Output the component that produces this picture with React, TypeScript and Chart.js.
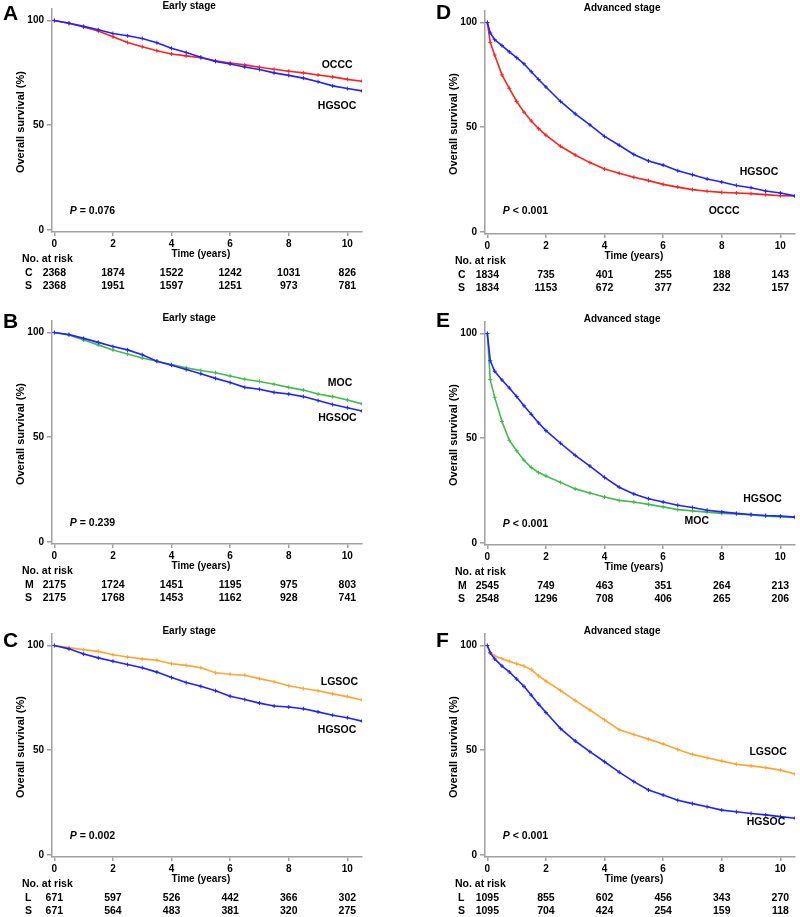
import React, { useEffect, useRef } from 'react';
import { Chart, registerables } from 'chart.js';

Chart.register(...registerables);

// ---------- DATA ----------
const timesEarly = [0, 0.5, 1, 1.5, 2, 2.5, 3, 3.5, 4, 4.5, 5, 5.5, 6, 6.5, 7, 7.5, 8, 8.5, 9, 9.5, 10, 10.5];
const timesAdvanced = [0, 0.1, 0.25, 0.5, 0.75, 1, 1.25, 1.5, 1.75, 2, 2.5, 3, 3.5, 4, 4.5, 5, 5.5, 6, 6.5, 7, 7.5, 8, 8.5, 9, 9.5, 10, 10.5];

// Panel A (early stage, OCCC vs HGSOC)
const earlyOCCC = [100, 98.7, 96.9, 95, 92.2, 89.5, 87.5, 85.6, 84, 83.1, 82.2, 80.8, 79.7, 78.8, 77.7, 76.7, 75.8, 75, 74, 73.1, 71.9, 71];
const earlyHGSOC_A = [100, 98.7, 97.2, 95.6, 93.8, 92.7, 91.4, 89.4, 86.7, 84.7, 82.5, 80.5, 79.2, 77.8, 76.6, 75, 73.8, 72.5, 70.8, 68.8, 67.5, 66.4];
// Panel B (early stage, MOC vs HGSOC)
const earlyMOC = [100, 98.8, 96.4, 94.1, 91.7, 89.7, 87.8, 86.3, 84.7, 83.1, 81.9, 80.8, 79.2, 77.7, 76.6, 75.3, 73.8, 72.5, 70.6, 69.4, 67.8, 65.9];
const earlyHGSOC_B = [100, 99, 97.2, 95.3, 93.3, 91.7, 89.4, 86.3, 84.4, 82.3, 80.3, 78.1, 76.1, 73.8, 72.9, 71.4, 70.6, 69.4, 67.5, 65.6, 64.1, 62.5];
// Panel C (early stage, LGSOC vs HGSOC)
const earlyLGSOC = [100, 99, 98, 97.2, 95.6, 94.5, 93.6, 93, 91.3, 90.5, 89.4, 87, 86.3, 85.8, 84.2, 82.7, 80.8, 79.5, 78.4, 76.9, 75.6, 74];
const earlyHGSOC_C = [100, 98.4, 95.9, 94.1, 92.5, 90.9, 89.4, 87.3, 84.7, 82.3, 80.5, 78.4, 75.8, 74.2, 72.5, 71.1, 70.6, 69.8, 68.3, 66.7, 65.5, 63.9];
// Panel D (advanced stage, OCCC vs HGSOC)
const advOCCC = [100, 90.5, 84.5, 75, 68.6, 62.3, 57.2, 53, 49.3, 46.2, 40.9, 36.7, 33.1, 30, 28, 26.1, 24.5, 22.7, 21.4, 20.2, 19.4, 18.9, 18.6, 18.3, 17.8, 17.3, 17.2];
const advHGSOC_D = [100, 95, 91.8, 89, 86, 83.2, 80.3, 76.5, 72.8, 69.2, 62.3, 56.4, 51.1, 45.6, 41.4, 37, 33.9, 31.9, 29.2, 27.3, 25.3, 23.8, 22.2, 21.1, 19.5, 18.6, 17.2];
// Panel E (advanced stage, MOC vs HGSOC)
const advMOC = [100, 78, 69.5, 58, 49, 44, 39.5, 36, 33.6, 32, 28.9, 25.8, 23.8, 21.9, 20.3, 19.5, 18.4, 17.2, 15.9, 15.3, 14.7, 14.1, 13.8, 13.3, 12.8, 12.5, 12.2];
const advHGSOC_E = [100, 87, 82, 77.8, 74, 69.9, 65.5, 61.4, 57.3, 53.6, 47.6, 41.8, 36.7, 31.3, 26.6, 23.4, 21.1, 19.5, 18, 16.9, 15.6, 14.8, 14.1, 13.6, 13.1, 12.8, 12.3];
// Panel F (advanced stage, LGSOC vs HGSOC)
const advLGSOC = [100, 96.5, 95, 93.7, 92.5, 91.3, 90.2, 88.5, 85.5, 83, 78.5, 73.7, 69.2, 64.5, 59.8, 57.5, 55.3, 53, 50.3, 48, 46.4, 44.8, 43.3, 42.5, 41.7, 40.5, 38.6];
const advHGSOC_F = [100, 96.5, 93.6, 90.2, 87.4, 84, 80.5, 76.3, 72, 68, 60.3, 54.4, 49.3, 44.5, 39.5, 35, 31, 28.6, 26.1, 24.5, 23, 21.4, 20.6, 19.8, 19.1, 18.3, 17.5];

// Numbers at risk (at years 0, 2, 4, 6, 8, 10)
const riskTimes = [0, 2, 4, 6, 8, 10];
const riskA_C = [2368, 1874, 1522, 1242, 1031, 826];
const riskA_S = [2368, 1951, 1597, 1251, 973, 781];
const riskB_M = [2175, 1724, 1451, 1195, 975, 803];
const riskB_S = [2175, 1768, 1453, 1162, 928, 741];
const riskC_L = [671, 597, 526, 442, 366, 302];
const riskC_S = [671, 564, 483, 381, 320, 275];
const riskD_C = [1834, 735, 401, 255, 188, 143];
const riskD_S = [1834, 1153, 672, 377, 232, 157];
const riskE_M = [2545, 749, 463, 351, 264, 213];
const riskE_S = [2548, 1296, 708, 406, 265, 206];
const riskF_L = [1095, 855, 602, 456, 343, 270];
const riskF_S = [1095, 704, 424, 254, 159, 118];

const xTickValues = [0, 2, 4, 6, 8, 10];
const yTickValues = [0, 50, 100];

// ---------- STYLE ----------
const FONT = '"Liberation Sans", Arial, Helvetica, sans-serif';
const RED = '#ff2222';
const BLUE = '#2222ff';
const GREEN = '#44bb4c';
const ORANGE = '#ffa533';
const AXIS = '#a0a0a0';
const CW = 367;
const CH = 292;

type Series = { values: number[]; color: string };
type Label = { text: string; x: number; y: number };
type Panel = {
  key: string;
  left: number;
  top: number;
  letterY: number;
  title: string;
  times: number[];
  series: Series[];
  labels: Label[];
  p: string;
  pY: number;
  risk: { label: string; values: number[] }[];
};

const panels: Panel[] = [
  {
    key: 'A', left: 0, top: 0, letterY: 20, title: 'Early stage', times: timesEarly,
    series: [{ values: earlyHGSOC_A, color: BLUE }, { values: earlyOCCC, color: RED }],
    labels: [{ text: 'OCCC', x: 9.65, y: 78.8 }, { text: 'HGSOC', x: 9.65, y: 59 }],
    p: '= 0.076', pY: 8.9,
    risk: [{ label: 'C', values: riskA_C }, { label: 'S', values: riskA_S }],
  },
  {
    key: 'B', left: 0, top: 312, letterY: 16, title: 'Early stage', times: timesEarly,
    series: [{ values: earlyHGSOC_B, color: BLUE }, { values: earlyMOC, color: GREEN }],
    labels: [{ text: 'MOC', x: 9.75, y: 75.6 }, { text: 'HGSOC', x: 9.66, y: 59.2 }],
    p: '= 0.239', pY: 8.9,
    risk: [{ label: 'M', values: riskB_M }, { label: 'S', values: riskB_S }],
  },
  {
    key: 'C', left: 0, top: 625, letterY: 22, title: 'Early stage', times: timesEarly,
    series: [{ values: earlyHGSOC_C, color: BLUE }, { values: earlyLGSOC, color: ORANGE }],
    labels: [{ text: 'LGSOC', x: 9.73, y: 82.3 }, { text: 'HGSOC', x: 9.65, y: 59.4 }],
    p: '= 0.002', pY: 8.9,
    risk: [{ label: 'L', values: riskC_L }, { label: 'S', values: riskC_S }],
  },
  {
    key: 'D', left: 433, top: 2, letterY: 17, title: 'Advanced stage', times: timesAdvanced,
    series: [{ values: advHGSOC_D, color: BLUE }, { values: advOCCC, color: RED }],
    labels: [{ text: 'HGSOC', x: 9.27, y: 28.4 }, { text: 'OCCC', x: 8.08, y: 9.7 }],
    p: '< 0.001', pY: 9.7,
    risk: [{ label: 'C', values: riskD_C }, { label: 'S', values: riskD_S }],
  },
  {
    key: 'E', left: 433, top: 313, letterY: 14, title: 'Advanced stage', times: timesAdvanced,
    series: [{ values: advHGSOC_E, color: BLUE }, { values: advMOC, color: GREEN }],
    labels: [{ text: 'HGSOC', x: 9.39, y: 21.1 }, { text: 'MOC', x: 7.15, y: 10.2 }],
    p: '< 0.001', pY: 9.1,
    risk: [{ label: 'M', values: riskE_M }, { label: 'S', values: riskE_S }],
  },
  {
    key: 'F', left: 433, top: 625, letterY: 22, title: 'Advanced stage', times: timesAdvanced,
    series: [{ values: advHGSOC_F, color: BLUE }, { values: advLGSOC, color: ORANGE }],
    labels: [{ text: 'LGSOC', x: 9.58, y: 49.2 }, { text: 'HGSOC', x: 9.51, y: 15.5 }],
    p: '< 0.001', pY: 8.9,
    risk: [{ label: 'L', values: riskF_L }, { label: 'S', values: riskF_S }],
  },
];

function makeTextPlugin(panel: Panel) {
  return {
    id: 'panelText' + panel.key,
    afterDraw(chart: any) {
      const ctx = chart.ctx as CanvasRenderingContext2D;
      const xs = chart.scales.x;
      const ys = chart.scales.y;
      ctx.save();
      ctx.fillStyle = '#000';
      // panel letter
      ctx.font = `bold 21px ${FONT}`;
      ctx.textAlign = 'left';
      ctx.textBaseline = 'alphabetic';
      ctx.fillText(panel.key, 3, panel.letterY);
      // title
      ctx.font = `bold 10px ${FONT}`;
      ctx.textAlign = 'center';
      ctx.textBaseline = 'middle';
      ctx.fillText(panel.title, xs.getPixelForValue(4.6), 6);
      // x axis title
      ctx.fillText('Time (years)', xs.getPixelForValue(5), 254);
      // y axis title
      ctx.save();
      ctx.font = `bold 11px ${FONT}`;
      ctx.translate(21, ys.getPixelForValue(51.5));
      ctx.rotate(-Math.PI / 2);
      ctx.fillText('Overall survival (%)', 0, 0);
      ctx.restore();
      // curve labels
      ctx.font = `bold 10.5px ${FONT}`;
      panel.labels.forEach((l) => {
        ctx.fillText(l.text, xs.getPixelForValue(l.x), ys.getPixelForValue(l.y));
      });
      // P value
      ctx.textAlign = 'left';
      const px = xs.getPixelForValue(0.53);
      const py = ys.getPixelForValue(panel.pY);
      ctx.font = `italic bold 10.5px ${FONT}`;
      ctx.fillText('P', px, py);
      const w = ctx.measureText('P').width;
      ctx.font = `bold 10.5px ${FONT}`;
      const sp = ctx.measureText(' ').width;
      ctx.fillText(panel.p, px + w + sp, py);
      // risk table
      ctx.fillText('No. at risk', 22, 259);
      const rowY = [273, 286];
      panel.risk.forEach((row, r) => {
        ctx.textAlign = 'left';
        ctx.fillText(row.label, 25, rowY[r]);
        ctx.textAlign = 'center';
        row.values.forEach((v, i) => {
          ctx.fillText(String(v), xs.getPixelForValue(riskTimes[i]), rowY[r]);
        });
      });
      ctx.restore();
    },
  };
}

function KMPanel({ panel }: { panel: Panel }) {
  const ref = useRef<HTMLCanvasElement | null>(null);
  useEffect(() => {
    if (!ref.current) return;
    const tickFont = { family: FONT, size: 10, weight: 'bold' as const };
    const chart = new Chart(ref.current, {
      type: 'line',
      data: {
        datasets: panel.series.map((s) => ({
          data: panel.times.map((t, i) => ({ x: t, y: s.values[i] })),
          borderColor: s.color,
          backgroundColor: s.color,
          borderWidth: 1.6,
          pointRadius: 2,
          pointStyle: 'cross',
          pointBorderWidth: 1,
          pointBorderColor: s.color,
          fill: false,
          tension: 0,
        })),
      },
      options: {
        responsive: false,
        animation: false,
        events: [],
        layout: { padding: { left: 0, right: CW - 363, top: 5, bottom: 40 } },
        plugins: { legend: { display: false }, tooltip: { enabled: false }, title: { display: false } },
        scales: {
          x: {
            type: 'linear',
            min: -0.08,
            max: 10.5,
            afterBuildTicks: (s: any) => { s.ticks = xTickValues.map((v) => ({ value: v })); },
            afterFit: (s: any) => { s.height = 20; },
            grid: { drawOnChartArea: false, drawTicks: true, tickLength: 4, color: AXIS, lineWidth: 1.5 },
            border: { display: true, color: AXIS, width: 1.5 },
            ticks: { font: tickFont, color: '#000', padding: 2, maxRotation: 0, autoSkip: false },
          },
          y: {
            type: 'linear',
            min: -1,
            max: 105.5,
            afterBuildTicks: (s: any) => { s.ticks = yTickValues.map((v) => ({ value: v })); },
            afterFit: (s: any) => { s.width = 52; },
            grid: { drawOnChartArea: false, drawTicks: true, tickLength: 5, color: AXIS, lineWidth: 1.5 },
            border: { display: true, color: AXIS, width: 1.5 },
            ticks: { font: tickFont, color: '#000', padding: 3, autoSkip: false },
          },
        },
      },
      plugins: [makeTextPlugin(panel)],
    } as any);
    return () => chart.destroy();
  }, [panel]);
  return (
    <canvas
      ref={ref}
      width={CW}
      height={CH}
      style={{ position: 'absolute', left: panel.left, top: panel.top, width: CW, height: CH }}
    />
  );
}

export default function App() {
  return (
    <div style={{ position: 'absolute', left: 0, top: 0, width: 800, height: 917, overflow: 'hidden', background: '#fff' }}>
      {panels.map((p) => (
        <KMPanel key={p.key} panel={p} />
      ))}
    </div>
  );
}
